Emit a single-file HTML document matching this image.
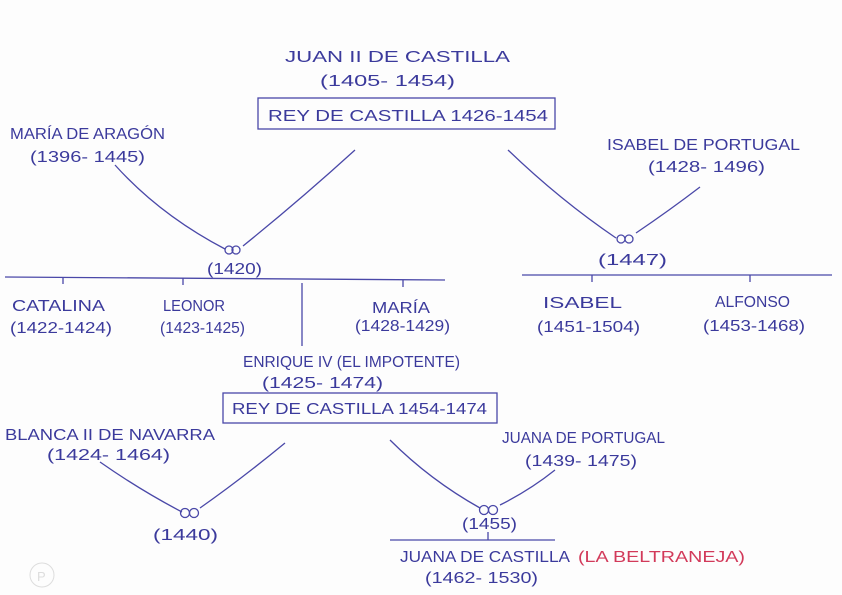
<!DOCTYPE html>
<html><head><meta charset="utf-8"><style>
html,body{margin:0;padding:0;background:#fdfdfd;}
svg{display:block}
text{font-family:"Liberation Sans",sans-serif;fill:#3b3a9c;font-size:16px;}
</style></head><body>
<svg width="842" height="595" viewBox="0 0 842 595" xmlns="http://www.w3.org/2000/svg">
<rect width="842" height="595" fill="#fdfdfd"/>
<g stroke="#4a48a8" stroke-width="1.3" fill="none">
<!-- top box -->
<rect x="258" y="98" width="297" height="31"/>
<!-- Juan II / Maria marriage -->
<path d="M115 165 Q160 215 225 249"/>
<path d="M243 246 Q300 200 355 150"/>
<circle cx="229" cy="250" r="4"/><circle cx="236" cy="250" r="4"/>
<path d="M5 277 L445 280"/>
<path d="M63 277 v7 M183 278 v7 M403 280 v7"/>
<path d="M302 283 L302 346"/>
<!-- Isabel de Portugal -->
<path d="M508 150 Q560 200 616 238"/>
<path d="M636 233 Q670 210 700 187"/>
<circle cx="621" cy="239" r="4"/><circle cx="629" cy="239" r="4"/>
<path d="M522 275 L832 275"/>
<path d="M592 275 v7 M750 275 v7"/>
<!-- second box -->
<rect x="223" y="393" width="274" height="30"/>
<!-- Blanca -->
<path d="M100 462 Q140 490 182 512"/>
<path d="M200 508 Q240 480 285 443"/>
<circle cx="185" cy="513" r="4.5"/><circle cx="194" cy="513" r="4.5"/>
<!-- Juana de Portugal -->
<path d="M390 440 Q430 480 480 508"/>
<path d="M500 505 Q530 490 555 470"/>
<circle cx="484" cy="510" r="4.5"/><circle cx="493" cy="510" r="4.5"/>
<path d="M390 540 L555 540"/>
<path d="M488 532 v8"/>
</g>
<circle cx="42" cy="575" r="12" fill="none" stroke="#ddd" stroke-width="1"/>
<text x="37" y="581" style="fill:#ddd;font-size:13px">P</text>

<text x="285" y="62" textLength="225" lengthAdjust="spacingAndGlyphs" font-size="19">JUAN II DE CASTILLA</text>
<text x="320" y="86" textLength="135" lengthAdjust="spacingAndGlyphs" font-size="18">(1405- 1454)</text>
<text x="268" y="121" textLength="280" lengthAdjust="spacingAndGlyphs" font-size="18">REY DE CASTILLA 1426-1454</text>

<text x="10" y="139" textLength="155" lengthAdjust="spacingAndGlyphs">MARÍA DE ARAGÓN</text>
<text x="30" y="162" textLength="115" lengthAdjust="spacingAndGlyphs">(1396- 1445)</text>
<text x="207" y="274" textLength="55" lengthAdjust="spacingAndGlyphs">(1420)</text>

<text x="12" y="311" textLength="93" lengthAdjust="spacingAndGlyphs">CATALINA</text>
<text x="10" y="333" textLength="102" lengthAdjust="spacingAndGlyphs">(1422-1424)</text>
<text x="163" y="311" textLength="62" lengthAdjust="spacingAndGlyphs">LEONOR</text>
<text x="160" y="333" textLength="85" lengthAdjust="spacingAndGlyphs">(1423-1425)</text>
<text x="372" y="313" textLength="58" lengthAdjust="spacingAndGlyphs">MARÍA</text>
<text x="355" y="331" textLength="95" lengthAdjust="spacingAndGlyphs">(1428-1429)</text>

<text x="607" y="150" textLength="193" lengthAdjust="spacingAndGlyphs">ISABEL DE PORTUGAL</text>
<text x="648" y="172" textLength="117" lengthAdjust="spacingAndGlyphs">(1428- 1496)</text>
<text x="598" y="265" textLength="69" lengthAdjust="spacingAndGlyphs">(1447)</text>
<text x="543" y="308" textLength="79" lengthAdjust="spacingAndGlyphs">ISABEL</text>
<text x="537" y="332" textLength="103" lengthAdjust="spacingAndGlyphs">(1451-1504)</text>
<text x="715" y="307" textLength="75" lengthAdjust="spacingAndGlyphs">ALFONSO</text>
<text x="703" y="331" textLength="102" lengthAdjust="spacingAndGlyphs">(1453-1468)</text>

<text x="243" y="367" textLength="217" lengthAdjust="spacingAndGlyphs">ENRIQUE IV (EL IMPOTENTE)</text>
<text x="262" y="388" textLength="121" lengthAdjust="spacingAndGlyphs">(1425- 1474)</text>
<text x="232" y="414" textLength="255" lengthAdjust="spacingAndGlyphs">REY DE CASTILLA 1454-1474</text>

<text x="5" y="440" textLength="210" lengthAdjust="spacingAndGlyphs">BLANCA II DE NAVARRA</text>
<text x="47" y="460" textLength="123" lengthAdjust="spacingAndGlyphs">(1424- 1464)</text>
<text x="153" y="540" textLength="65" lengthAdjust="spacingAndGlyphs">(1440)</text>

<text x="502" y="443" textLength="163" lengthAdjust="spacingAndGlyphs">JUANA DE PORTUGAL</text>
<text x="525" y="466" textLength="112" lengthAdjust="spacingAndGlyphs">(1439- 1475)</text>
<text x="462" y="529" textLength="55" lengthAdjust="spacingAndGlyphs">(1455)</text>
<text x="400" y="562" textLength="170" lengthAdjust="spacingAndGlyphs">JUANA DE CASTILLA</text>
<text x="578" y="562" textLength="167" lengthAdjust="spacingAndGlyphs" style="fill:#d23a5a">(LA BELTRANEJA)</text>
<text x="425" y="583" textLength="113" lengthAdjust="spacingAndGlyphs">(1462- 1530)</text>
</svg>
</body></html>
